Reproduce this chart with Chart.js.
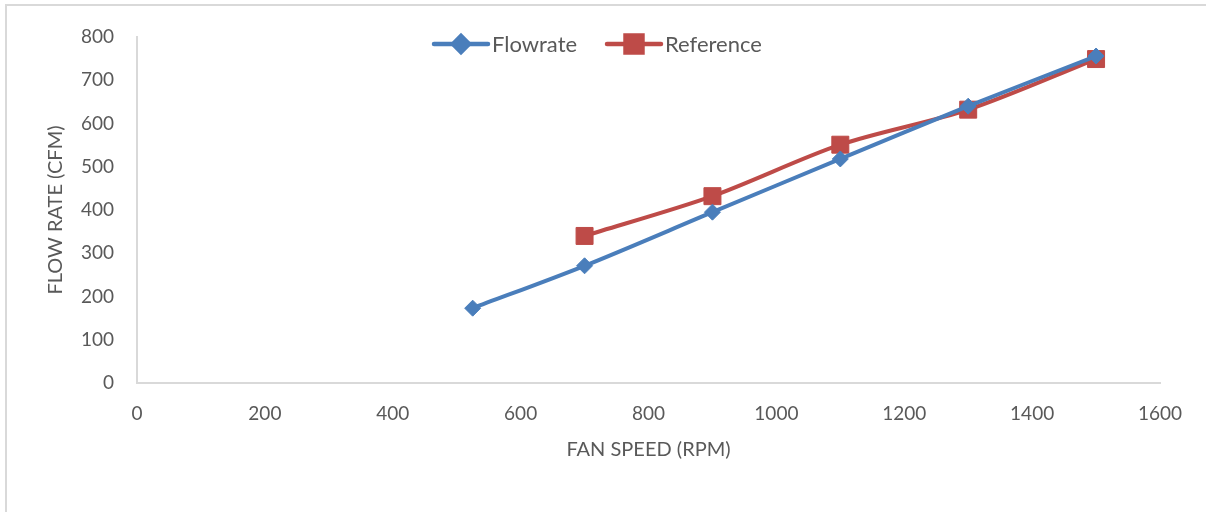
<!DOCTYPE html>
<html>
<head>
<meta charset="utf-8">
<title>Fan speed vs flow rate</title>
<script src="https://cdn.jsdelivr.net/npm/chart.js@4/dist/chart.umd.min.js"></script>
<style>
  html, body { margin: 0; padding: 0; background: #ffffff; }
  #wrap { position: relative; width: 1206px; height: 512px; }
</style>
</head>
<body>
<div id="wrap"><canvas id="chart" width="1206" height="512"></canvas></div>
<script>
// Measured fan speed (RPM) and flow rate (CFM)
const flowrateRpm = [525, 700, 900, 1100, 1300, 1500];
const flowrateCfm = [173, 271, 395, 518, 640, 756];

// Reference curve
const referenceRpm = [700, 900, 1100, 1300, 1500];
const referenceCfm = [340, 432, 551, 632, 749];

const seriesNames = ['Flowrate', 'Reference'];
const xTitle = 'FAN SPEED (RPM)';
const yTitle = 'FLOW RATE (CFM)';

const BLUE = '#4a7ebb';
const RED = '#be4b48';
const TEXT = '#595959';
const AXIS = '#d9d9d9';
const FONT = 'Lato, "Open Sans", sans-serif';

const toPoints = (xs, ys) => xs.map((x, i) => ({ x, y: ys[i] }));
const plainNumber = (v) => String(v);

// Outer frame of the chart object (top and left edges)
const framePlugin = {
  id: 'frame',
  beforeDraw(chart) {
    const ctx = chart.ctx;
    ctx.save();
    ctx.strokeStyle = AXIS;
    ctx.lineWidth = 2;
    ctx.beginPath();
    ctx.moveTo(6, 512);
    ctx.lineTo(6, 5);
    ctx.lineTo(1206, 5);
    ctx.stroke();
    ctx.restore();
  }
};

// Legend drawn as line + marker samples inside the plot area
const lineLegend = {
  id: 'lineLegend',
  afterDraw(chart) {
    const ctx = chart.ctx;
    const y = 44;
    const entries = [
      { x: 434, idx: 0 },
      { x: 607, idx: 1 }
    ];
    ctx.save();
    entries.forEach(({ x, idx }) => {
      const ds = chart.data.datasets[idx];
      ctx.strokeStyle = ds.borderColor;
      ctx.lineWidth = 4.5;
      ctx.lineCap = 'round';
      ctx.beginPath();
      ctx.moveTo(x, y);
      ctx.lineTo(x + 54, y);
      ctx.stroke();
      Chart.helpers.drawPoint(ctx, {
        pointStyle: ds.pointStyle,
        radius: ds.pointRadius,
        borderWidth: 1,
        rotation: 0
      }, x + 27, y);
      ctx.fillStyle = ds.backgroundColor;
      ctx.fill();
      ctx.fillStyle = TEXT;
      ctx.font = '22px ' + FONT;
      ctx.textBaseline = 'middle';
      ctx.textAlign = 'left';
      ctx.fillText(ds.label, x + 58, y + 1);
    });
    ctx.restore();
  }
};

new Chart(document.getElementById('chart'), {
  type: 'line',
  data: {
    datasets: [
      {
        label: seriesNames[0],
        data: toPoints(flowrateRpm, flowrateCfm),
        borderColor: BLUE,
        backgroundColor: BLUE,
        borderWidth: 4,
        pointStyle: 'rectRot',
        pointRadius: 8,
        pointBorderWidth: 1,
        tension: 0.3,
        fill: false
      },
      {
        label: seriesNames[1],
        data: toPoints(referenceRpm, referenceCfm),
        borderColor: RED,
        backgroundColor: RED,
        borderWidth: 4,
        pointStyle: 'rect',
        pointRadius: 12,
        pointBorderWidth: 1,
        tension: 0.3,
        fill: false
      }
    ]
  },
  options: {
    responsive: false,
    animation: false,
    events: [],
    layout: { padding: { left: 44, top: 37, right: 46, bottom: 50 } },
    plugins: {
      legend: { display: false },
      tooltip: { enabled: false }
    },
    scales: {
      x: {
        type: 'linear',
        min: 0,
        max: 1600,
        ticks: { stepSize: 200, color: TEXT, font: { family: FONT, size: 19 }, padding: 19, maxRotation: 0, callback: plainNumber },
        grid: { drawOnChartArea: false, drawTicks: false },
        border: { display: true, color: AXIS, width: 2 },
        title: { display: true, text: xTitle, color: TEXT, font: { family: FONT, size: 20 }, padding: 0 },
        afterFit(scale) { scale.height = 79; }
      },
      y: {
        type: 'linear',
        min: 0,
        max: 800,
        ticks: { stepSize: 100, color: TEXT, font: { family: FONT, size: 19 }, padding: 23, callback: plainNumber },
        grid: { drawOnChartArea: false, drawTicks: false },
        border: { display: true, color: AXIS, width: 2 },
        title: { display: true, text: yTitle, color: TEXT, font: { family: FONT, size: 20 }, padding: 0 },
        afterFit(scale) { scale.width = 93; }
      }
    }
  },
  plugins: [framePlugin, lineLegend]
});
</script>
</body>
</html>
